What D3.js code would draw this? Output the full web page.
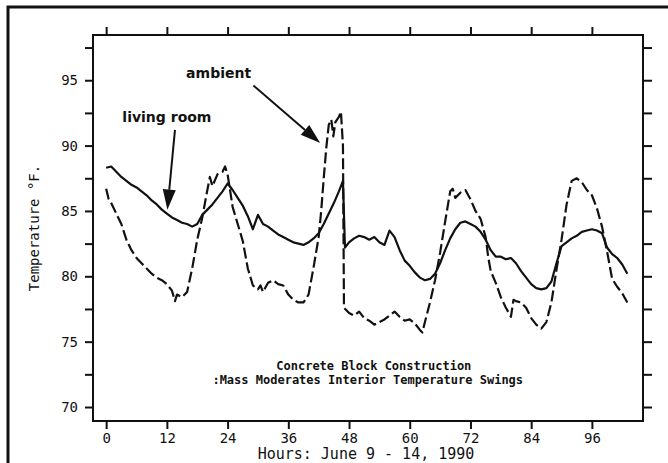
<!DOCTYPE html>
<html>
<head>
<meta charset="utf-8">
<script src="https://cdn.jsdelivr.net/npm/d3@7.9.0/dist/d3.min.js"></script>
<style>
  html, body { margin: 0; padding: 0; background: #fff; }
  svg { display: block; }
  .mono { font-family: "DejaVu Sans Mono", monospace; fill: #111; }
  .tag { font-family: "DejaVu Sans", sans-serif; font-weight: bold; font-size: 14px; fill: #111; }
</style>
</head>
<body>
<svg id="chart" width="668" height="463"></svg>
<script>
// hours since start, June 9 - 14 1990
const livingHours = [0, 1, 2, 3, 4, 5, 6, 7, 8, 9, 10, 11, 12, 13, 14, 15, 16, 17, 18, 19,
  20, 21, 22, 23, 24, 25, 26, 27, 28, 29, 30, 31, 32, 33, 34, 35, 36, 37, 38, 39,
  40, 41, 42, 43, 44, 45, 46, 46.8, 47.2, 48, 49, 50, 51, 52, 53, 54, 55, 56, 57, 58, 59,
  60, 61, 62, 63, 64, 65, 66, 67, 68, 69, 70, 71, 72, 73, 74, 75, 76, 77, 78, 79,
  80, 81, 82, 83, 84, 85, 86, 87, 88, 89, 90, 91, 92, 93, 94, 95, 96, 97, 98, 99,
  100, 101, 102, 103];
const livingRoom = [88.3, 88.4, 88.0, 87.6, 87.3, 87.0, 86.8, 86.5, 86.2, 85.8, 85.5, 85.1, 84.8, 84.5, 84.3, 84.1, 84.0, 83.8, 84.0, 84.7,
  85.1, 85.5, 86.0, 86.5, 87.1, 86.6, 86.0, 85.4, 84.6, 83.6, 84.7, 84.0, 83.8, 83.5, 83.2, 83.0, 82.8, 82.6, 82.5, 82.4,
  82.6, 82.9, 83.3, 84.0, 84.8, 85.6, 86.5, 87.3, 82.2, 82.6, 82.9, 83.1, 83.0, 82.8, 83.0, 82.6, 82.4, 83.5, 83.0, 82.0, 81.2,
  80.8, 80.3, 79.9, 79.7, 79.8, 80.2, 81.0, 82.0, 82.9, 83.6, 84.1, 84.2, 84.0, 83.8, 83.4, 82.8, 82.0, 81.5, 81.5, 81.3,
  81.4, 81.0, 80.4, 79.9, 79.4, 79.1, 79.0, 79.1, 79.6, 81.0, 82.3, 82.6, 82.9, 83.1, 83.4, 83.5, 83.6, 83.5, 83.3, 82.2,
  81.7, 81.4, 80.9, 80.2];

const ambientHours = [0, 0.5, 1, 2, 3, 4, 5, 6, 7, 8, 9, 10, 11, 12, 13, 13.6, 14, 15, 16, 17, 18, 19,
  20, 20.5, 21, 22, 23, 23.5, 24, 25, 26, 27, 28, 29, 30, 30.5, 31, 32, 33, 34, 35, 36, 37, 38, 39,
  40, 41, 42, 42.5, 43, 43.5, 44, 44.5, 44.9, 45.3, 46, 46.4, 46.8, 47, 48, 49, 50, 51, 52, 53, 54, 55, 56, 57, 58, 59,
  60, 61, 62, 62.5, 63, 64, 65, 66, 67, 68, 68.5, 69, 70, 71, 72, 73, 74, 75, 75.5, 76, 77, 78, 79,
  80, 80.5, 81, 82, 83, 84, 85, 86, 87, 88, 89, 90, 91, 92, 93, 94, 95, 96, 97, 98, 99,
  100, 101, 102, 103];
const ambient = [86.7, 85.9, 85.6, 84.8, 84.0, 82.8, 82.0, 81.4, 81.0, 80.6, 80.2, 79.9, 79.7, 79.4, 78.9, 78.1, 78.6, 78.4, 78.8, 80.6, 82.8, 84.5,
  86.6, 87.6, 86.9, 87.8, 88.0, 88.4, 87.8, 85.3, 84.0, 82.7, 80.6, 79.3, 79.0, 79.3, 78.8, 79.5, 79.7, 79.4, 79.3, 78.6, 78.2, 78.0, 78.0,
  78.6, 80.7, 83.0, 85.0, 87.5, 89.8, 91.6, 92.0, 90.7, 91.8, 92.2, 92.6, 90.0, 77.6, 77.2, 77.0, 77.3, 76.8, 76.6, 76.3, 76.5, 76.7, 77.0, 77.3, 76.9, 76.6,
  76.7, 76.4, 75.9, 75.7, 76.5, 78.0, 79.7, 81.8, 84.2, 86.5, 86.7, 86.0, 86.4, 86.6, 85.9, 85.0, 84.4, 83.0, 81.5, 80.4, 79.5, 78.4, 77.6,
  76.9, 78.2, 78.1, 78.0, 77.6, 76.8, 76.3, 76.0, 76.5, 78.0, 80.5, 82.8, 85.5, 87.3, 87.5, 87.2, 86.6, 86.2, 85.2, 83.8, 81.9,
  79.8, 79.2, 78.7, 78.0];

const xTicks = [0, 12, 24, 36, 48, 60, 72, 84, 96];
const yTicks = [70, 72.5, 75, 77.5, 80, 82.5, 85, 87.5, 90, 92.5, 95, 97.5];
const yLabelTicks = [70, 75, 80, 85, 90, 95];

const margin = { top: 35, right: 25, bottom: 42, left: 93 };
const width = 668 - margin.left - margin.right;
const height = 463 - margin.top - margin.bottom;

const svg = d3.select('#chart');

// scanned page border (top + left edges)
svg.append('rect')
  .attr('x', 8).attr('y', 7)
  .attr('width', 720).attr('height', 520)
  .attr('fill', 'none')
  .attr('stroke', '#111')
  .attr('stroke-width', 3);

const g = svg.append('g').attr('transform', `translate(${margin.left},${margin.top})`);

const x = d3.scaleLinear().domain([-2.6, 106.1]).range([0, width]);
const y = d3.scaleLinear().domain([68.93, 98.46]).range([height, 0]);

function styleAxis(sel) {
  sel.select('.domain').remove();
  sel.selectAll('line').attr('stroke', '#111').attr('stroke-width', 2);
  sel.selectAll('text')
    .attr('class', 'mono')
    .attr('font-size', 14)
    .attr('fill', '#111');
}

g.append('g')
  .attr('transform', `translate(0,${height})`)
  .call(d3.axisBottom(x).tickValues(xTicks).tickSize(8).tickPadding(4).tickFormat(d3.format('d')))
  .call(styleAxis);

g.append('g')
  .call(d3.axisTop(x).tickValues(xTicks).tickSize(8).tickFormat(''))
  .call(styleAxis);

g.append('g')
  .call(d3.axisLeft(y).tickValues(yTicks).tickSize(8).tickPadding(7)
    .tickFormat((d) => yLabelTicks.includes(d) ? d3.format('d')(d) : ''))
  .call(styleAxis);

g.append('g')
  .attr('transform', `translate(${width},0)`)
  .call(d3.axisRight(y).tickValues(yTicks).tickSize(9).tickFormat(''))
  .call(styleAxis);

g.append('rect')
  .attr('width', width).attr('height', height)
  .attr('fill', 'none')
  .attr('stroke', '#111')
  .attr('stroke-width', 2);

const line = d3.line()
  .x((d) => x(d[0]))
  .y((d) => y(d[1]));

g.append('path')
  .datum(livingHours.map((h, i) => [h, livingRoom[i]]))
  .attr('d', line)
  .attr('fill', 'none')
  .attr('stroke', '#111')
  .attr('stroke-width', 2.2)
  .attr('stroke-linejoin', 'round');

g.append('path')
  .datum(ambientHours.map((h, i) => [h, ambient[i]]))
  .attr('d', line)
  .attr('fill', 'none')
  .attr('stroke', '#111')
  .attr('stroke-width', 2.2)
  .attr('stroke-dasharray', '11,4')
  .attr('stroke-linejoin', 'round');

// arrows with big filled heads
const arrows = [
  { from: [13.6, 91.2], to: [12.1, 85.1] },
  { from: [29.1, 94.6], to: [42.3, 90.2] }
];
arrows.forEach((a) => {
  const x1 = x(a.from[0]), y1 = y(a.from[1]);
  const x2 = x(a.to[0]), y2 = y(a.to[1]);
  const ang = Math.atan2(y2 - y1, x2 - x1);
  const len = 20, half = 6.5;
  const bx = x2 - len * Math.cos(ang), by = y2 - len * Math.sin(ang);
  const px = -Math.sin(ang) * half, py = Math.cos(ang) * half;
  g.append('line')
    .attr('x1', x1).attr('y1', y1)
    .attr('x2', bx).attr('y2', by)
    .attr('stroke', '#111')
    .attr('stroke-width', 2);
  g.append('path')
    .attr('d', `M${x2},${y2}L${bx + px},${by + py}L${bx - px},${by - py}Z`)
    .attr('fill', '#111');
});

g.append('text').attr('class', 'tag')
  .attr('x', x(15.8)).attr('y', y(95.2))
  .text('ambient');
g.append('text').attr('class', 'tag')
  .attr('x', x(3.2)).attr('y', y(91.8))
  .text('living room');

g.append('text').attr('class', 'mono')
  .attr('x', x(52.9)).attr('y', y(72.8))
  .attr('text-anchor', 'middle')
  .attr('font-size', 12)
  .attr('font-weight', 'bold')
  .text('Concrete Block Construction');
g.append('text').attr('class', 'mono')
  .attr('x', x(51.7)).attr('y', y(71.75))
  .attr('text-anchor', 'middle')
  .attr('font-size', 12)
  .attr('font-weight', 'bold')
  .text(':Mass Moderates Interior Temperature Swings');

// axis titles
svg.append('text').attr('class', 'mono')
  .attr('x', 366).attr('y', 459)
  .attr('text-anchor', 'middle')
  .attr('font-size', 15)
  .text('Hours: June 9 - 14, 1990');

svg.append('text').attr('class', 'mono')
  .attr('transform', 'translate(39,228) rotate(-90)')
  .attr('text-anchor', 'middle')
  .attr('font-size', 14)
  .text('Temperature °F.');
</script>
</body>
</html>
